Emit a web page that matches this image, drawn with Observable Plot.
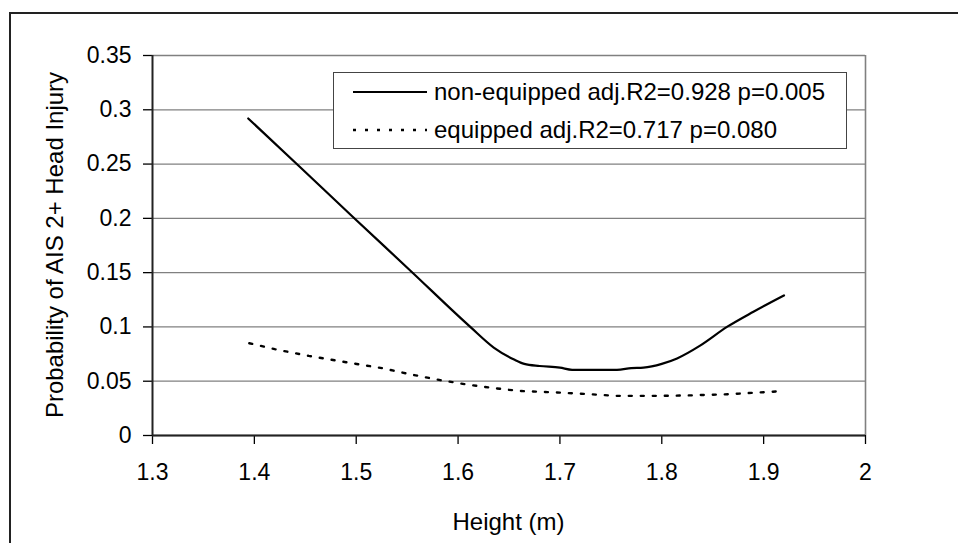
<!DOCTYPE html>
<html>
<head>
<meta charset="utf-8">
<script src="https://cdn.jsdelivr.net/npm/d3@7"></script>
<script src="https://cdn.jsdelivr.net/npm/@observablehq/plot@0.6"></script>
<style>
  html, body { margin: 0; padding: 0; background: #fff; }
  #wrap { position: relative; width: 958px; height: 543px; overflow: hidden; font-family: "Liberation Sans", Arial, sans-serif; color: #000; }
  #wrap > svg { position: absolute; left: 0; top: 0; }
  .border { position: absolute; left: 9px; top: 12px; width: 1000px; height: 600px; border-top: 2px solid #222; border-left: 2px solid #222; pointer-events: none; }
  .xtitle { position: absolute; left: 152px; width: 713px; top: 507px; text-align: center; font-size: 24px; line-height: 30px; }
  .ytitle { position: absolute; left: 55px; top: 245px; transform: translate(-50%, -50%) rotate(-90deg); white-space: nowrap; font-size: 24px; line-height: 30px; }
  .legend { position: absolute; left: 333px; top: 72px; width: 514px; height: 77px; border: 1.5px solid #444; background: #fff; box-sizing: border-box; }
  .legend .row { position: absolute; left: 18px; height: 30px; display: flex; align-items: center; font-size: 24px; white-space: nowrap; }
  #wrap .legend svg { position: static; display: block; margin-right: 6px; }
</style>
</head>
<body>
<div id="wrap"></div>
<script>
// Data
const heightsNonEquipped = [1.394, 1.444, 1.496, 1.553, 1.612, 1.635, 1.655, 1.665, 1.68, 1.70, 1.712, 1.735, 1.756, 1.77, 1.782, 1.80, 1.815, 1.838, 1.864, 1.89, 1.92];
const probNonEquipped   = [0.292, 0.248, 0.202, 0.152, 0.100, 0.081, 0.070, 0.066, 0.064, 0.0625, 0.0605, 0.0605, 0.0605, 0.062, 0.0625, 0.066, 0.071, 0.083, 0.100, 0.114, 0.129];

const heightsEquipped = [1.395, 1.42, 1.4535, 1.49, 1.5255, 1.555, 1.5826, 1.607, 1.632, 1.66, 1.70, 1.73, 1.755, 1.80, 1.83, 1.865, 1.912];
const probEquipped    = [0.085, 0.0795, 0.0733, 0.0675, 0.062, 0.056, 0.051, 0.0472, 0.044, 0.041, 0.0395, 0.038, 0.0365, 0.0365, 0.037, 0.038, 0.0405];

const xTicks = [1.3, 1.4, 1.5, 1.6, 1.7, 1.8, 1.9, 2.0];
const yTicks = [0, 0.05, 0.1, 0.15, 0.2, 0.25, 0.3, 0.35];

const seriesLabels = ["non-equipped adj.R2=0.928 p=0.005", "equipped adj.R2=0.717 p=0.080"];
const xTitle = "Height (m)";
const yTitle = "Probability of AIS 2+ Head Injury";

const nonEq = heightsNonEquipped.map((h, i) => ({h, p: probNonEquipped[i]}));
const eq = heightsEquipped.map((h, i) => ({h, p: probEquipped[i]}));
const fmt = d => String(+d.toFixed(2));
const dash = "3,9";

const chart = Plot.plot({
  width: 958,
  height: 543,
  marginLeft: 152,
  marginRight: 93,
  marginTop: 55,
  marginBottom: 108,
  style: {fontFamily: "'Liberation Sans', Arial, sans-serif", fontSize: "23px", background: "transparent", color: "#000"},
  x: {domain: [1.3, 2.0]},
  y: {domain: [0, 0.35]},
  marks: [
    Plot.gridY(yTicks, {stroke: "#808080", strokeOpacity: 1, strokeWidth: 1.3}),
    Plot.ruleX([2.0], {stroke: "#808080", strokeWidth: 1.6}),
    Plot.axisX(xTicks, {tickSize: 9, tickPadding: 19, tickFormat: fmt, label: null, stroke: "#000", strokeWidth: 1.3}),
    Plot.axisY(yTicks, {tickSize: 9, tickPadding: 12, tickFormat: fmt, label: null, stroke: "#000", strokeWidth: 1.3}),
    Plot.line(eq, {x: "h", y: "p", stroke: "#000", strokeWidth: 2.4, strokeDasharray: dash}),
    Plot.line(nonEq, {x: "h", y: "p", stroke: "#000", strokeWidth: 2.2, curve: "monotone-x"}),
    Plot.ruleX([1.3], {stroke: "#222", strokeWidth: 2}),
    Plot.ruleY([0], {stroke: "#222", strokeWidth: 2.2})
  ]
});

const wrap = document.getElementById("wrap");
wrap.appendChild(chart);

const xt = document.createElement("div");
xt.className = "xtitle"; xt.textContent = xTitle; wrap.appendChild(xt);
const yt = document.createElement("div");
yt.className = "ytitle"; yt.textContent = yTitle; wrap.appendChild(yt);

const legend = document.createElement("div");
legend.className = "legend";
const dashes = [null, dash];
const rowTops = [4, 42];
seriesLabels.forEach((lab, i) => {
  const row = document.createElement("div");
  row.className = "row";
  row.style.top = rowTops[i] + "px";
  const s = d3.create("svg").attr("width", 76).attr("height", 10);
  s.append("line").attr("x1", 1).attr("x2", 75).attr("y1", 5).attr("y2", 5)
    .attr("stroke", "#000").attr("stroke-width", i ? 2.4 : 2).attr("stroke-dasharray", dashes[i]);
  row.appendChild(s.node());
  const t = document.createElement("span");
  t.textContent = lab;
  row.appendChild(t);
  legend.appendChild(row);
});
wrap.appendChild(legend);

const b = document.createElement("div");
b.className = "border"; wrap.appendChild(b);
</script>
</body>
</html>
